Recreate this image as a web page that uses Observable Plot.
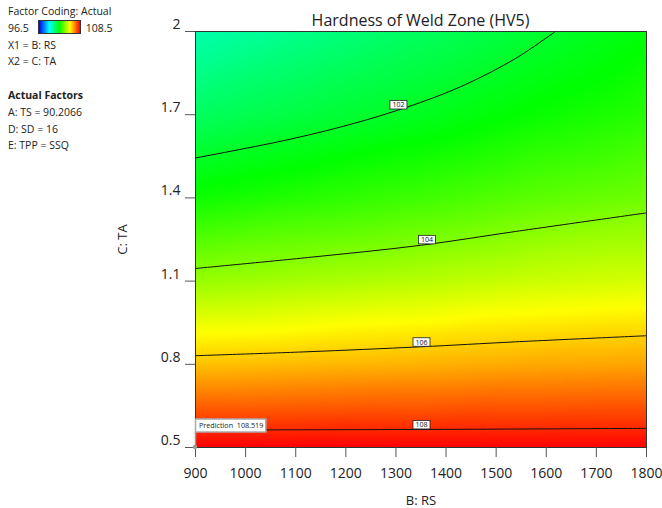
<!DOCTYPE html>
<html><head><meta charset="utf-8">
<script src="https://cdn.jsdelivr.net/npm/d3@7"></script>
<script src="https://cdn.jsdelivr.net/npm/@observablehq/plot@0.6"></script>
<style>
body{margin:0;background:#fff;font-family:"Open Sans",sans-serif;}
#wrap{position:relative;width:662px;height:508px;overflow:hidden;}
#legend{position:absolute;left:8px;top:3px;font-size:10.5px;color:#222;line-height:16.8px;white-space:nowrap;}
#legend .bar{display:inline-block;width:41px;height:12px;vertical-align:-2px;margin:0 5px 0 9px;border:1px solid #333;
  background:linear-gradient(to right,#0000ff,#00ffff,#00ff00,#ffff00,#ff0000);}
#title{position:absolute;left:195px;width:451px;top:9px;text-align:center;font-size:16px;color:#222;line-height:22px;}
</style></head><body>
<div id="wrap"><div id="chart"></div><div id="title"></div><div id="legend"></div></div>
<script>
// ---- data ----
const titleText = "Hardness of Weld Zone (HV5)";
const xLabel = "B: RS";
const yLabel = "C: TA";
// colour field: estimated hardness on a B x C grid
const rs = [900, 1125, 1350, 1575, 1800];
const ta = [0.5, 0.8, 1.1, 1.4, 1.7, 2.0];
const hv050 = [108.52, 108.50, 108.48, 108.46, 108.47];
const hv080 = [106.22, 106.31, 106.40, 106.51, 106.57];
const hv110 = [104.27, 104.47, 104.65, 104.89, 105.02];
const hv140 = [102.65, 102.95, 103.23, 103.57, 103.81];
const hv170 = [101.38, 101.77, 102.14, 102.58, 102.94];
const hv200 = [100.45, 100.92, 101.39, 101.90, 102.41];
const hvRows = [hv050, hv080, hv110, hv140, hv170, hv200];
// contour lines: [B: RS, C: TA]
const contour102 = [[900, 1.544], [1090, 1.612], [1229, 1.675], [1349, 1.744], [1439, 1.809], [1539, 1.903], [1618, 2.0]];
const contour104 = [[900, 1.1455], [1124, 1.185], [1349, 1.229], [1539, 1.279], [1800, 1.346]];
const contour106 = [[900, 0.831], [1120, 0.845], [1349, 0.863], [1539, 0.881], [1800, 0.903]];
const contour108 = [[900, 0.563], [1349, 0.565], [1800, 0.569]];
const levels = [102, 104, 106, 108];
const contourLines = [contour102, contour104, contour106, contour108];
const labelRS = [1305, 1362, 1351, 1351];
const rsTicks = [900, 1000, 1100, 1200, 1300, 1400, 1500, 1600, 1700, 1800];
const taTicks = [0.5, 0.8, 1.1, 1.4, 1.7, 2];
const colorDomain = [96.5, 108.5];
const colorStops = ["#0000ff", "#00ffff", "#00ff00", "#ffff00", "#ff0000"];
const codingLines = ["X1 = B: RS", "X2 = C: TA"];
const actualFactors = ["A: TS = 90.2066", "D: SD = 16", "E: TPP = SSQ"];
const predRS = 900, predTA = 0.5, predValue = 108.519;

// ---- build ----
document.getElementById("title").textContent = titleText;
document.getElementById("legend").innerHTML = `<div>Factor Coding: Actual</div>
<div><span>${colorDomain[0]}</span><span class="bar"></span><span>${colorDomain[1]}</span></div>
${codingLines.map(s => `<div>${s}</div>`).join("")}
<div>&nbsp;</div><div><b>Actual Factors</b></div>
${actualFactors.map(s => `<div>${s}</div>`).join("")}`;

const grid = [];
hvRows.forEach((row, j) => row.forEach((v, i) => grid.push({rs: rs[i], ta: ta[j], hv: v})));

const lineData = [];
contourLines.forEach((pts, k) => pts.forEach(([b, c]) => lineData.push({level: levels[k], rs: b, ta: c})));

function taOnLine(pts, b) {
  for (let i = 0; i < pts.length - 1; i++) {
    const [b0, c0] = pts[i], [b1, c1] = pts[i + 1];
    if (b >= b0 && b <= b1) return c0 + (c1 - c0) * (b - b0) / (b1 - b0);
  }
  return pts[pts.length - 1][1];
}
const labels = levels.map((L, k) => ({rs: labelRS[k], ta: taOnLine(contourLines[k], labelRS[k]), text: String(L)}));

const ext = {x1: d3.min(rs), x2: d3.max(rs), y1: d3.min(ta), y2: d3.max(ta)};
const fig = Plot.plot({
  width: 662, height: 508,
  marginLeft: 195, marginRight: 16, marginTop: 31, marginBottom: 61,
  x: {domain: [ext.x1, ext.x2]},
  y: {domain: [ext.y1, ext.y2]},
  color: {type: "linear", domain: colorDomain, interpolate: d3.piecewise(d3.interpolateRgb, colorStops)},
  style: {fontFamily: "'Open Sans', sans-serif", fontSize: "14px", color: "#222", background: "transparent"},
  marks: [
    Plot.raster(grid, {x: "rs", y: "ta", fill: "hv", interpolate: "barycentric", ...ext}),
    Plot.line(lineData, {x: "rs", y: "ta", z: "level", curve: "catmull-rom", stroke: "#111", strokeWidth: 1}),
    Plot.frame({stroke: "#333"}),
    Plot.axisX({ticks: rsTicks, tickSize: 10, tickPadding: 11, label: null, tickFormat: d => String(d), stroke: "#555", fill: "#222"}),
    Plot.axisY({ticks: taTicks, tickSize: 10, label: null, tickFormat: () => "", stroke: "#555"}),
    Plot.text(taTicks, {y: d => d, frameAnchor: "left", textAnchor: "end", text: d => String(d), dx: -15, dy: -7, fontSize: 14, fill: "#222"}),
    Plot.text([xLabel], {frameAnchor: "bottom", textAnchor: "middle", text: d => d, dy: 57, fontSize: 13, fill: "#222"}),
    Plot.text([yLabel], {frameAnchor: "left", textAnchor: "middle", lineAnchor: "middle", text: d => d, dx: -73, rotate: -90, fontSize: 13, fill: "#222"}),
    Plot.text(labels, {x: "rs", y: "ta", text: "text", dy: -4.5, fontSize: 7, fill: "#111"})
  ]
});
document.getElementById("chart").appendChild(fig);

// boxes behind contour labels
const levelStrings = levels.map(String);
d3.select(fig).selectAll("text")
  .filter(function () { return levelStrings.includes(this.textContent) && getComputedStyle(this).fontSize === "7px"; })
  .each(function () {
    const bb = this.getBBox();
    const cy = bb.y + bb.height / 2;
    d3.select(this.parentNode).insert("rect", () => this)
      .attr("transform", this.getAttribute("transform"))
      .attr("x", bb.x - 2.5).attr("y", cy - 4.25).attr("width", bb.width + 5).attr("height", 8.5)
      .attr("fill", "#fff").attr("stroke", "#222").attr("stroke-width", 0.8);
  });

// prediction flag
const sx = fig.scale("x"), sy = fig.scale("y");
const px = sx.apply(predRS), py = sy.apply(predTA);
const g = d3.select(fig).append("g").attr("font-family", "'Open Sans', sans-serif");
g.append("line").attr("x1", px + 0.5).attr("x2", px + 0.5).attr("y1", py).attr("y2", py - 15)
  .attr("stroke", "#999").attr("stroke-width", 1.5);
const rect = g.append("rect").attr("fill", "#fff").attr("stroke", "#aaa").attr("stroke-width", 1.5);
const t = g.append("text").attr("x", px + 4).attr("y", py - 21.5).attr("dy", "0.35em")
  .attr("text-anchor", "start").attr("font-size", 7.2).attr("fill", "#222").attr("xml:space", "preserve")
  .text("Prediction  " + predValue);
const tb = t.node().getBBox();
rect.attr("x", px + 0.5).attr("y", py - 28).attr("width", tb.width + 6).attr("height", 13);
g.append("circle").attr("cx", px).attr("cy", py).attr("r", 2.2).attr("fill", "#999");
</script>
</body></html>
